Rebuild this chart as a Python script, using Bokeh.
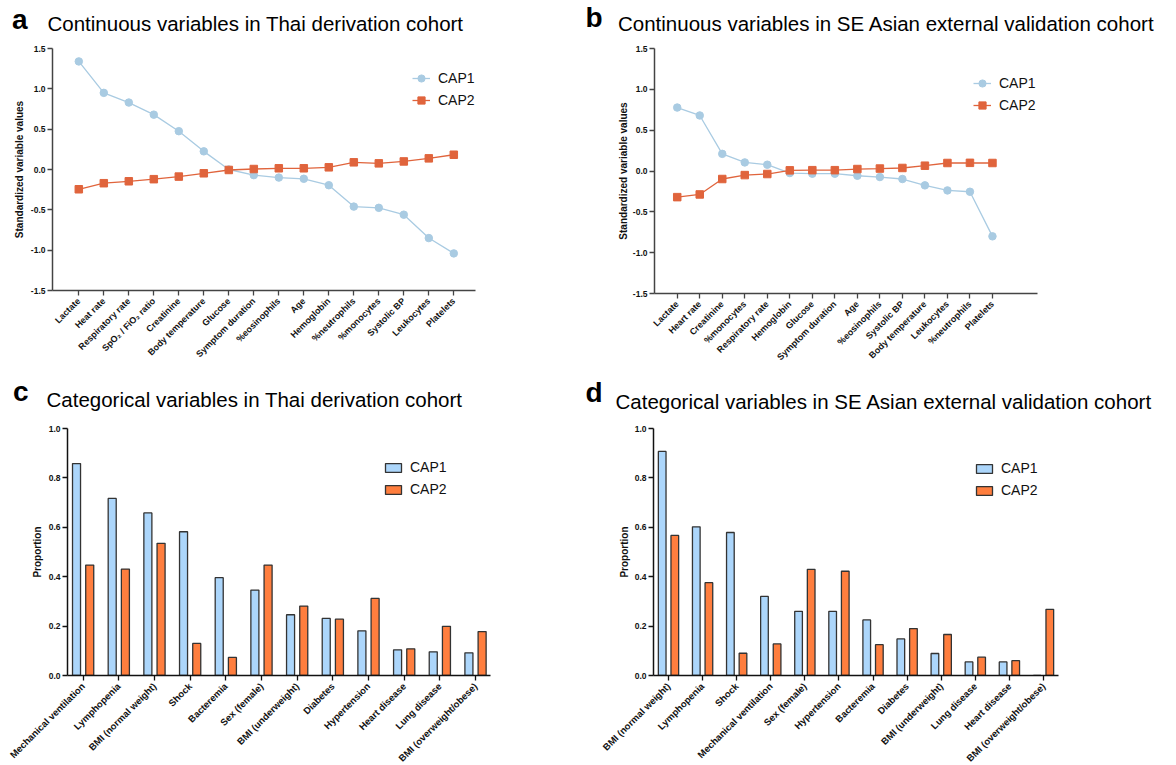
from bokeh.plotting import figure
from bokeh.models import FixedTicker, Legend, LegendItem, Range1d, NumeralTickFormatter
from bokeh.layouts import column, row
from bokeh.embed import file_html
from bokeh.resources import INLINE
from bokeh.core.properties import value

FONT = "Liberation Sans"
C1_LINE = "#a9cbe2"
C2_LINE = "#e0643c"
C1_BAR = "#acd6fb"
C2_BAR = "#ff7e3e"

# ---- Panel a data ----
a_vars = ["Lactate", "Heat rate", "Respiratory rate", "SpO\u2082 / FiO\u2082 ratio", "Creatinine",
          "Body temperature", "Glucose", "Symptom duration", "%eosinophils", "Age", "Hemoglobin",
          "%neutrophils", "%monocytes", "Systolic BP", "Leukocytes", "Platelets"]
a_cap1 = [1.34, 0.95, 0.83, 0.68, 0.475, 0.225, 0.0, -0.07, -0.10, -0.115, -0.195,
          -0.46, -0.475, -0.56, -0.85, -1.04]
a_cap2 = [-0.245, -0.17, -0.146, -0.12, -0.088, -0.047, -0.006, 0.006, 0.015, 0.015, 0.027,
          0.089, 0.076, 0.10, 0.138, 0.183]

# ---- Panel b data ----
b_vars = ["Lactate", "Heart rate", "Creatinine", "%monocytes", "Respiratory rate", "Hemoglobin",
          "Glucose", "Symptom duration", "Age", "%eosinophils", "Systolic BP", "Body temperature",
          "Leukocytes", "%neutrophils", "Platelets"]
b_cap1 = [0.777, 0.68, 0.21, 0.105, 0.077, -0.025, -0.033, -0.033, -0.058, -0.074, -0.098,
          -0.176, -0.238, -0.254, -0.80]
b_cap2 = [-0.32, -0.287, -0.098, -0.05, -0.037, 0.008, 0.01, 0.01, 0.024, 0.03, 0.037,
          0.065, 0.098, 0.10, 0.098]

# ---- Panel c data ----
c_vars = ["Mechanical ventilation", "Lymphopenia", "BMI (normal weight)", "Shock", "Bacteremia",
          "Sex (female)", "BMI (underweight)", "Diabetes", "Hypertension", "Heart disease",
          "Lung disease", "BMI (overweight/obese)"]
c_cap1 = [0.858, 0.717, 0.658, 0.582, 0.396, 0.346, 0.246, 0.231, 0.181, 0.104, 0.096, 0.092]
c_cap2 = [0.447, 0.431, 0.535, 0.130, 0.073, 0.447, 0.281, 0.228, 0.312, 0.108, 0.199, 0.178]

# ---- Panel d data ----
d_vars = ["BMI (normal weight)", "Lymphopenia", "Shock", "Mechanical ventilation", "Sex (female)",
          "Hypertension", "Bacteremia", "Diabetes", "BMI (underweight)", "Lung disease",
          "Heart disease", "BMI (overweight/obese)"]
d_cap1 = [0.907, 0.602, 0.579, 0.320, 0.260, 0.260, 0.225, 0.148, 0.089, 0.055, 0.055, 0.0]
d_cap2 = [0.567, 0.376, 0.090, 0.128, 0.430, 0.422, 0.125, 0.190, 0.166, 0.074, 0.060, 0.268]

titles = ["Continuous variables in Thai derivation cohort",
          "Continuous variables in SE Asian external validation cohort",
          "Categorical variables in Thai derivation cohort",
          "Categorical variables in SE Asian external validation cohort"]
letters = ["a", "b", "c", "d"]


def header(w, h, letter, lx, ly, title, tx, ty):
    p = figure(frame_width=w, frame_height=h, min_border=0, x_range=Range1d(0, w),
               y_range=Range1d(h, 0), x_axis_type=None, y_axis_type=None,
               output_backend="svg", toolbar_location=None)
    p.outline_line_color = None
    p.xgrid.visible = False
    p.ygrid.visible = False
    p.text(x=[lx], y=[ly], text=[letter], text_font=value(FONT), text_font_style="bold",
           text_font_size=value("28px"), text_color="#000000", text_baseline="alphabetic",
           text_align="left")
    p.text(x=[tx], y=[ty], text=[title], text_font=value(FONT), text_font_style="normal",
           text_font_size=value("20.5px"), text_color="#000000", text_baseline="alphabetic",
           text_align="left")
    return p


def base_fig(fw, fh, bl, br, bt, bb, xr, yr):
    p = figure(frame_width=fw, frame_height=fh, min_border_left=bl, min_border_right=br,
               min_border_top=bt, min_border_bottom=bb, x_range=Range1d(*xr), y_range=Range1d(*yr),
               output_backend="svg", toolbar_location=None)
    p.xgrid.visible = False
    p.ygrid.visible = False
    p.outline_line_color = None
    return p


def style_axes(p, vars_, axis_color, xfont, ylabel, yticks, lab_standoff):
    xa = p.xaxis[0]
    xa.ticker = FixedTicker(ticks=list(range(len(vars_))))
    xa.major_label_overrides = {i: v for i, v in enumerate(vars_)}
    xa.major_label_orientation = 0.785398
    xa.minor_tick_line_color = None
    xa.major_tick_in = 0
    xa.major_tick_out = 5
    xa.axis_line_color = axis_color
    xa.major_tick_line_color = axis_color
    xa.axis_line_width = 1.5
    xa.major_tick_line_width = 1.3
    xa.major_label_text_font = FONT
    xa.major_label_text_font_style = "bold"
    xa.major_label_text_font_size = xfont
    xa.major_label_text_color = "#111111"
    xa.major_label_standoff = 4

    ya = p.yaxis[0]
    ya.ticker = FixedTicker(ticks=yticks)
    ya.formatter = NumeralTickFormatter(format="0.0")
    ya.minor_tick_line_color = None
    ya.major_tick_in = 0
    ya.major_tick_out = 5
    ya.axis_line_color = axis_color
    ya.major_tick_line_color = axis_color
    ya.axis_line_width = 1.5
    ya.major_tick_line_width = 1.3
    ya.major_label_text_font = FONT
    ya.major_label_text_font_style = "bold"
    ya.major_label_text_font_size = "8.5px"
    ya.major_label_text_color = "#111111"
    ya.major_label_standoff = 2
    ya.axis_label = ylabel
    ya.axis_label_text_font = FONT
    ya.axis_label_text_font_style = "bold"
    ya.axis_label_text_font_size = "10px"
    ya.axis_label_text_color = "#111111"
    ya.axis_label_standoff = lab_standoff


def line_panel(vars_, cap1, cap2, fw, fh, bl, br, bt, bb, xr, leg_loc, lab_standoff):
    p = base_fig(fw, fh, bl, br, bt, bb, xr, (-1.5, 1.5))
    xs = list(range(len(vars_)))
    l1 = p.line(xs, cap1, line_color=C1_LINE, line_width=1.3)
    s1 = p.scatter(xs, cap1, marker="circle", size=7.5, fill_color=C1_LINE, line_color=C1_LINE)
    l2 = p.line(xs, cap2, line_color=C2_LINE, line_width=1.3)
    s2 = p.scatter(xs, cap2, marker="square", size=7.5, fill_color=C2_LINE, line_color=C2_LINE)
    style_axes(p, vars_, "#444444", "9px", "Standardized variable values",
               [-1.5, -1.0, -0.5, 0.0, 0.5, 1.0, 1.5], lab_standoff)
    leg = Legend(items=[LegendItem(label="CAP1", renderers=[l1, s1]),
                        LegendItem(label="CAP2", renderers=[l2, s2])],
                 location=leg_loc, padding=0, margin=0, spacing=2, label_height=20,
                 glyph_width=18, glyph_height=20, label_standoff=8,
                 border_line_color=None, background_fill_alpha=0,
                 label_text_font=FONT, label_text_font_size="14px", label_text_color="#111111")
    p.add_layout(leg)
    return p


def bar_panel(vars_, cap1, cap2, fw, fh, bl, br, bt, bb, xr, leg_loc, lab_standoff):
    p = base_fig(fw, fh, bl, br, bt, bb, xr, (0, 1.0))
    xs = list(range(len(vars_)))
    x1 = [x - 0.185 for x in xs]
    x2 = [x + 0.185 for x in xs]
    r1 = p.vbar(x=x1, top=cap1, width=0.225, fill_color=C1_BAR, line_color="#333333", line_width=1.3)
    r2 = p.vbar(x=x2, top=cap2, width=0.225, fill_color=C2_BAR, line_color="#333333", line_width=1.3)
    style_axes(p, vars_, "#111111", "9.5px", "Proportion", [0.0, 0.2, 0.4, 0.6, 0.8, 1.0],
               lab_standoff)
    leg = Legend(items=[LegendItem(label="CAP1", renderers=[r1]),
                        LegendItem(label="CAP2", renderers=[r2])],
                 location=leg_loc, padding=0, margin=0, spacing=2, label_height=20,
                 glyph_width=20, glyph_height=11, label_standoff=7,
                 border_line_color=None, background_fill_alpha=0,
                 label_text_font=FONT, label_text_font_size="14px", label_text_color="#111111")
    p.add_layout(leg)
    return p


LW = 584   # left column width
RW = 586   # right column width

ha = header(LW, 36, letters[0], 11.5, 19.2, titles[0], 47, 22.8)
hb = header(RW, 36, letters[1], 1, 17.3, titles[1], 33.5, 22.5)
hc = header(LW, 46, letters[2], 12.5, 18.8, titles[2], 46, 26.5)
hd = header(RW, 46, letters[3], 1, 19.7, titles[3], 31, 28.7)

pa = line_panel(a_vars, a_cap1, a_cap2, 423, 242, 52, 109, 12, 82, (-1.052, 15.868), (360, 180), 3)
pb = line_panel(b_vars, b_cap1, b_cap2, 383, 245, 70, 133, 8, 83, (-1.009, 16.0), (319, 178), 1)
pc = bar_panel(c_vars, c_cap1, c_cap2, 423, 247, 67, 94, 10, 82, (-0.438, 11.42), (316, 176), 3)
pd = bar_panel(d_vars, d_cap1, d_cap2, 405, 247, 69, 112, 9, 83, (-0.44, 11.44), (321, 175), 2)

layout = column(row(ha, hb), row(pa, pb), row(hc, hd), row(pc, pd))
open("out.html", "w").write(file_html(layout, INLINE))
